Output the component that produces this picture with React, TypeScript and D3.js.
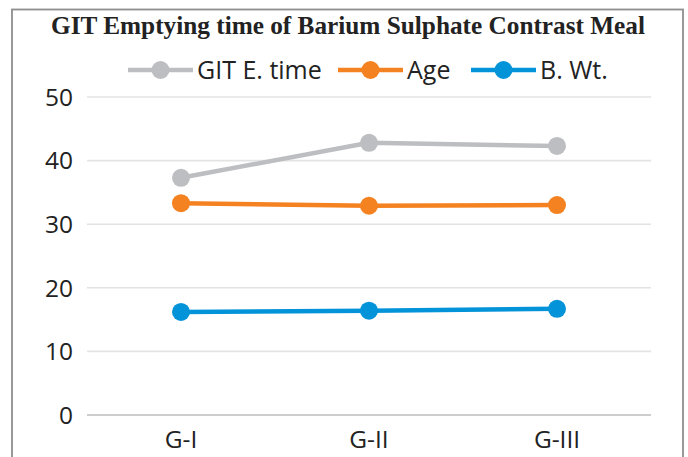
import React, { useRef, useEffect } from 'react';
import * as d3 from 'd3';

// categories and series values
const groups = ['G-I', 'G-II', 'G-III'];
const gitTime = [37.3, 42.8, 42.3];
const age = [33.3, 32.9, 33.0];
const bodyWt = [16.2, 16.4, 16.7];
const yTicks = [0, 10, 20, 30, 40, 50];

const seriesNames = ['GIT E. time', 'Age', 'B. Wt.'];
const seriesColors = ['#BDBEC1', '#F58220', '#0393D8'];

const App = () => {
  const svgRef = useRef<SVGSVGElement>(null);
  const width = 688;
  const height = 457;

  useEffect(() => {
    d3.select(svgRef.current).selectAll('*').remove();

    const margin = { top: 97, right: 37, bottom: 42, left: 87 };
    const innerWidth = width - margin.left - margin.right;
    const innerHeight = height - margin.top - margin.bottom;

    const svg = d3.select(svgRef.current).attr('width', width).attr('height', height);

    // outer frame (bottom edge is cut off in the reference)
    svg
      .append('rect')
      .attr('x', 12)
      .attr('y', 9.5)
      .attr('width', 671)
      .attr('height', 470)
      .attr('fill', 'white')
      .attr('stroke', '#8E8E8E')
      .attr('stroke-width', 1.8);

    const chart = svg.append('g').attr('transform', `translate(${margin.left},${margin.top})`);

    const xScale = d3.scaleBand().domain(groups).range([0, innerWidth]);
    const yScale = d3.scaleLinear().domain([0, 50]).range([innerHeight, 0]);

    // gridlines
    chart
      .selectAll('.grid')
      .data(yTicks)
      .enter()
      .append('line')
      .attr('x1', 0)
      .attr('x2', innerWidth)
      .attr('y1', d => yScale(d))
      .attr('y2', d => yScale(d))
      .attr('stroke', d => (d === 0 ? '#BCBCBC' : '#E3E3E3'))
      .attr('stroke-width', 1.6);

    // y tick labels
    chart
      .selectAll('.ylab')
      .data(yTicks)
      .enter()
      .append('text')
      .attr('x', -14)
      .attr('y', d => yScale(d))
      .attr('dy', '0.36em')
      .attr('text-anchor', 'end')
      .attr('font-family', '"Open Sans", sans-serif')
      .attr('font-size', '24.5px')
      .attr('fill', '#222')
      .text(d => d);

    // x labels
    chart
      .selectAll('.xlab')
      .data(groups)
      .enter()
      .append('text')
      .attr('x', d => (xScale(d) as number) + xScale.bandwidth() / 2)
      .attr('y', innerHeight + 33)
      .attr('text-anchor', 'middle')
      .attr('font-family', '"Open Sans", sans-serif')
      .attr('font-size', '24.5px')
      .attr('fill', '#222')
      .text(d => d);

    const series = [gitTime, age, bodyWt];
    const line = d3
      .line<number>()
      .x((_, i) => (xScale(groups[i]) as number) + xScale.bandwidth() / 2)
      .y(d => yScale(d));

    series.forEach((values, s) => {
      chart
        .append('path')
        .attr('d', line(values))
        .attr('fill', 'none')
        .attr('stroke', seriesColors[s])
        .attr('stroke-width', 4.5)
        .attr('stroke-linejoin', 'round');

      chart
        .selectAll(`.pt${s}`)
        .data(values)
        .enter()
        .append('circle')
        .attr('cx', (_, i) => (xScale(groups[i]) as number) + xScale.bandwidth() / 2)
        .attr('cy', d => yScale(d))
        .attr('r', 9)
        .attr('fill', seriesColors[s]);
    });

    // legend
    const legendX = [128, 338, 471];
    seriesNames.forEach((name, i) => {
      const row = svg.append('g').attr('transform', `translate(${legendX[i]},70)`);
      row
        .append('line')
        .attr('x1', 0)
        .attr('x2', 65)
        .attr('stroke', seriesColors[i])
        .attr('stroke-width', 4.5);
      row.append('circle').attr('cx', 32.5).attr('r', 9).attr('fill', seriesColors[i]);
      row
        .append('text')
        .attr('x', 69)
        .attr('y', 8.5)
        .attr('font-family', '"Open Sans", sans-serif')
        .attr('font-size', '25px')
        .attr('fill', '#222')
        .text(name);
    });

    // title
    svg
      .append('text')
      .attr('x', 51)
      .attr('y', 33.5)
      .attr('textLength', 594)
      .attr('lengthAdjust', 'spacingAndGlyphs')
      .attr('font-family', '"Liberation Serif", "Times New Roman", serif')
      .attr('font-size', '24.5px')
      .attr('font-weight', 'bold')
      .attr('fill', '#222')
      .text('GIT Emptying time of Barium Sulphate Contrast Meal');
  }, []);

  return (
    <svg
      ref={svgRef}
      style={{ position: 'absolute', left: 0, top: 0, display: 'block' }}
    ></svg>
  );
};

export default App;
